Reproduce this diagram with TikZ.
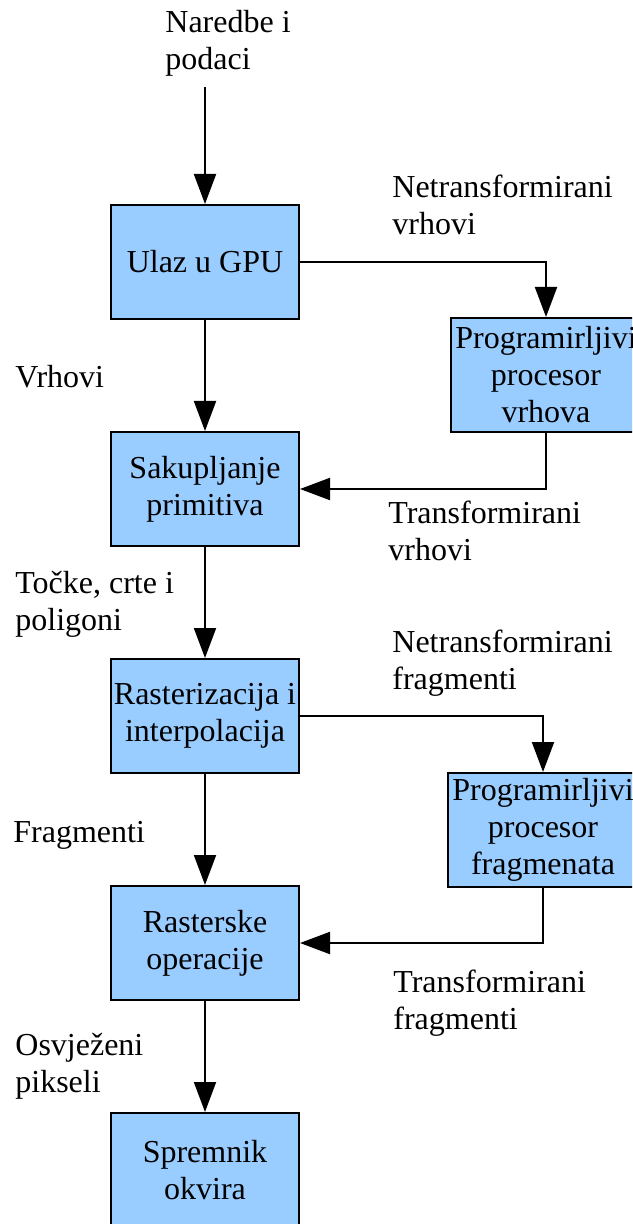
\documentclass[tikz,border=0pt]{standalone}
\usepackage{fontspec}
\setmainfont{Liberation Serif}
\usepackage{tikz}
\usetikzlibrary{arrows.meta}
\definecolor{gpublue}{HTML}{99CCFF}

\begin{document}
\begin{tikzpicture}[x=0.5pt, y=-0.5pt,
    every node/.style={font=\fontsize{16}{18.5}\selectfont},
    stage/.style={draw, line width=1pt, fill=gpublue, minimum width=94pt, minimum height=57pt, align=center, inner sep=0pt},
    lbl/.style={anchor=base west, align=left, inner sep=0pt},
    arrow/.style={-{Triangle[length=15pt, width=11pt]}, line width=1pt}
]
\path[use as bounding box, clip] (0,0) rectangle (632,1224);

% Main pipeline
\node[stage] (ulaz) at (205,262) {Ulaz u GPU};
\node[stage] (sakup) at (205,489) {Sakupljanje\\primitiva};
\node[stage] (raster) at (205,716) {Rasterizacija i\\interpolacija};
\node[stage] (rops) at (205,943) {Rasterske\\operacije};
\node[stage] (spremnik) at (205,1170) {Spremnik\\okvira};

% Programmable processors
\node[stage, minimum width=95pt] (procv) at (546,375) {Programirljivi\\procesor\\vrhova};
\node[stage, minimum width=95pt] (procf) at (543,830) {Programirljivi\\procesor\\fragmenata};

% Labels (base = last line)
\node[lbl] (naredbe) at (165,70) {Naredbe i\\podaci};
\node[lbl] (netransv) at (392,235) {Netransformirani\\vrhovi};
\node[lbl] (vrhovi) at (15,387) {Vrhovi};
\node[lbl] (transv) at (388,560) {Transformirani\\vrhovi};
\node[lbl] (tocke) at (15,630) {Točke, crte i\\poligoni};
\node[lbl] (netransf) at (392,689) {Netransformirani\\fragmenti};
\node[lbl] (fragmenti) at (13,842) {Fragmenti};
\node[lbl] (transf) at (393,1029) {Transformirani\\fragmenti};
\node[lbl] (osvjezeni) at (15,1092) {Osvježeni\\pikseli};

% Arrows
\coordinate (ulazin) at (205,87);
\draw[arrow] (ulazin) -- (ulaz.north);
\draw[arrow] (ulaz) -- (sakup);
\draw[arrow] (sakup) -- (raster);
\draw[arrow] (raster) -- (rops);
\draw[arrow] (rops) -- (spremnik);

\draw[arrow] (ulaz.east) -| (procv.north);
\draw[arrow] (procv.south) |- (sakup.east);
\draw[arrow] (raster.east) -| (procf.north);
\draw[arrow] (procf.south) |- (rops.east);

\end{tikzpicture}
\end{document}
